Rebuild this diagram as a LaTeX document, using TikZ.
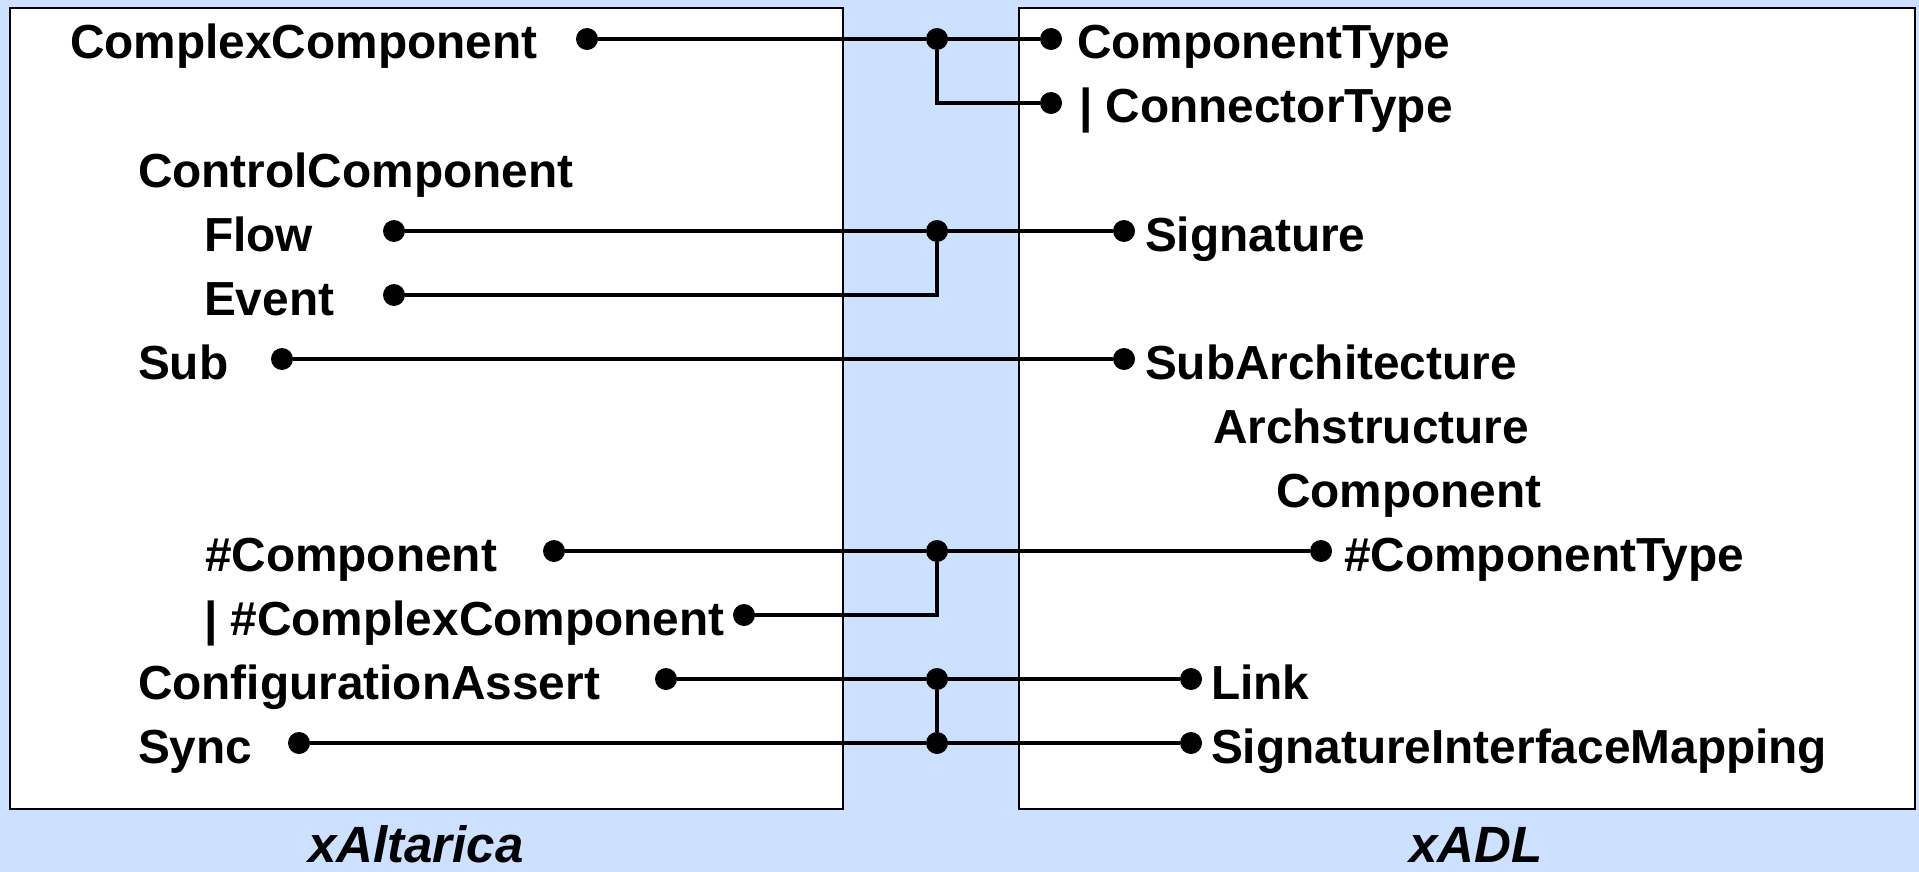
\documentclass[tikz,border=0pt]{standalone}
\usepackage{fontspec}
\setmainfont{Liberation Sans}
\definecolor{bg}{RGB}{204,224,255}
\tikzset{
 lbl/.style={anchor=base west, inner sep=0pt, outer sep=0pt, font=\fontsize{47.8}{56}\selectfont\bfseries},
 dot/.style={circle, fill=black, inner sep=0pt, outer sep=0pt, minimum size=22pt},
 conn/.style={line width=3.2pt, draw=black},
 panel/.style={draw=black, fill=white, line width=1.6pt, anchor=north west, inner sep=0pt},
 title/.style={anchor=base, inner sep=0pt, text depth=0pt, font=\fontsize{51}{58}\selectfont\bfseries\itshape}
}
\begin{document}
\begin{tikzpicture}[x=1pt,y=-1pt]
\fill[bg] (0,0) rectangle (1919,872);
\useasboundingbox (0,0) rectangle (1919,872);
% panels
\node[panel, minimum width=833pt, minimum height=801pt] (leftpanel) at (9,7) {};
\node[panel, minimum width=896pt, minimum height=801pt] (rightpanel) at (1018,7) {};
\node[title] (xalt) at (416,862) {xAltarica};
\node[title] (xadl) at (1476,862) {xADL};
% left labels
\node[lbl] (lcc) at (70,59) {ComplexComponent};
\node[lbl] (lctl) at (138,187) {ControlComponent};
\node[lbl] (lflow) at (204,251) {Flow};
\node[lbl] (levent) at (204,315) {Event};
\node[lbl] (lsub) at (138,379) {Sub};
\node[lbl] (lhc) at (205,571) {\#Component};
\node[lbl] (lhcc) at (204,635) {| \#ComplexComponent};
\node[lbl] (lca) at (138,699) {ConfigurationAssert};
\node[lbl] (lsync) at (138,763) {Sync};
% right labels
\node[lbl] (rct) at (1077,59) {ComponentType};
\node[lbl] (rcnt) at (1079,123) {| ConnectorType};
\node[lbl] (rsig) at (1145,251) {Signature};
\node[lbl] (rsub) at (1145,379) {SubArchitecture};
\node[lbl] (rarch) at (1213,443) {Archstructure};
\node[lbl] (rcomp) at (1276,507) {Component};
\node[lbl] (rhct) at (1344,571) {\#ComponentType};
\node[lbl] (rlink) at (1211,699) {Link};
\node[lbl] (rsim) at (1211,763) {SignatureInterfaceMapping};
% left dots
\node[dot] (dcc) at (587,39) {};
\node[dot] (dflow) at (394,231) {};
\node[dot] (devent) at (394,295) {};
\node[dot] (dsub) at (282,359) {};
\node[dot] (dhc) at (554,551) {};
\node[dot] (dhcc) at (744,615) {};
\node[dot] (dca) at (666,679) {};
\node[dot] (dsync) at (299,743) {};
% right dots
\node[dot] (dct) at (1051,39) {};
\node[dot] (dcnt) at (1051,103) {};
\node[dot] (dsig) at (1124,231) {};
\node[dot] (dsubarch) at (1124,359) {};
\node[dot] (dhct) at (1321,551) {};
\node[dot] (dlink) at (1191,679) {};
\node[dot] (dsim) at (1191,743) {};
% junctions
\node[dot] (j1) at (937,39) {};
\node[dot] (j2) at (937,231) {};
\node[dot] (j3) at (937,551) {};
\node[dot] (j4) at (937,679) {};
\node[dot] (j5) at (937,743) {};
% connectors
\draw[conn] (dcc) -- (j1) -- (dct);
\draw[conn] (j1) |- (dcnt);
\draw[conn] (dflow) -- (j2) -- (dsig);
\draw[conn] (devent) -| (j2);
\draw[conn] (dsub) -- (dsubarch);
\draw[conn] (dhc) -- (j3) -- (dhct);
\draw[conn] (dhcc) -| (j3);
\draw[conn] (dca) -- (j4) -- (dlink);
\draw[conn] (dsync) -- (j5) -- (dsim);
\draw[conn] (j4) -- (j5);
\end{tikzpicture}
\end{document}
